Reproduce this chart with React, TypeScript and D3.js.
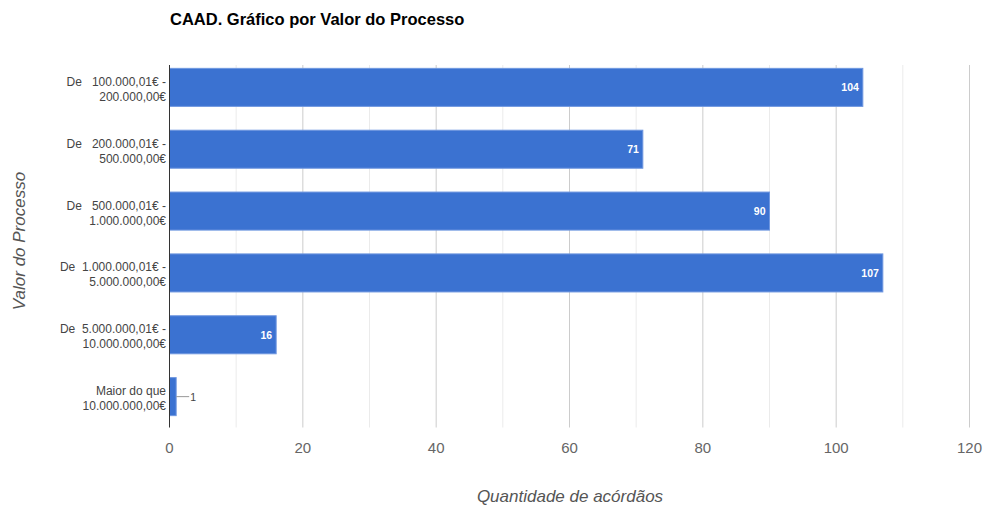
import React from "react";
import * as d3 from "d3";

const categories: string[][] = [
  ["De   100.000,01€ -", "200.000,00€"],
  ["De   200.000,01€ -", "500.000,00€"],
  ["De   500.000,01€ -", "1.000.000,00€"],
  ["De  1.000.000,01€ -", "5.000.000,00€"],
  ["De  5.000.000,01€ -", "10.000.000,00€"],
  ["Maior do que", "10.000.000,00€"],
];
const values: number[] = [104, 71, 90, 107, 16, 1];
const xTicks: number[] = [0, 20, 40, 60, 80, 100, 120];
const minorTicks: number[] = [10, 30, 50, 70, 90, 110];

const title = "CAAD. Gráfico por Valor do Processo";
const xTitle = "Quantidade de acórdãos";
const yTitle = "Valor do Processo";

export default function App() {
  const W = 986, H = 508;
  const plotTop = 65, plotBottom = 427.5;
  const x = d3.scaleLinear().domain([0, 120]).range([169.5, 969.5]);
  const y = d3
    .scaleBand<number>()
    .domain(values.map((_, i) => i))
    .range([56.6, 427.4])
    .paddingInner(0.385)
    .paddingOuter(0.19);
  const font = "Arial, 'Liberation Sans', sans-serif";
  return (
    <svg width={W} height={H} style={{ position: "absolute", left: 0, top: 0, fontFamily: font }}>
      <rect width={W} height={H} fill="#fff" />
      <text x={170} y={25} fontSize={16.5} fontWeight="bold" fill="#000">{title}</text>
      {minorTicks.map((t) => (
        <line key={"m" + t} x1={x(t)} x2={x(t)} y1={plotTop} y2={plotBottom} stroke="#ebebeb" strokeWidth={1} />
      ))}
      {xTicks.slice(1).map((t) => (
        <line key={"g" + t} x1={x(t)} x2={x(t)} y1={plotTop} y2={plotBottom} stroke="#cccccc" strokeWidth={1} />
      ))}
      {values.map((v, i) => {
        const by = y(i)!;
        const bh = y.bandwidth();
        const cy = by + bh / 2;
        const xe = x(v);
        return (
          <g key={i}>
            <rect x={x(0)} y={by} width={xe - x(0)} height={bh} fill="#3b72d1" stroke="#6f97e0" strokeWidth={1} />
            {v >= 10 ? (
              <text x={xe - 4} y={cy + 4} textAnchor="end" fontSize={10.5} fontWeight="bold" fill="#fff">{v}</text>
            ) : (
              <g>
                <line x1={xe} x2={xe + 13} y1={cy} y2={cy} stroke="#999" strokeWidth={1} />
                <text x={xe + 14} y={cy + 4} fontSize={10.5} fill="#444">{v}</text>
              </g>
            )}
            <text x={166} y={cy - 1.5} textAnchor="end" fontSize={12} fill="#444" style={{ whiteSpace: "pre" }}>{categories[i][0]}</text>
            <text x={166} y={cy + 13.5} textAnchor="end" fontSize={12} fill="#444" style={{ whiteSpace: "pre" }}>{categories[i][1]}</text>
          </g>
        );
      })}
      <line x1={x(0)} x2={x(0)} y1={plotTop} y2={plotBottom} stroke="#333" strokeWidth={1} />
      {xTicks.map((t) => (
        <text key={"t" + t} x={x(t)} y={453} textAnchor="middle" fontSize={15} fill="#666">{t}</text>
      ))}
      <text x={570} y={502} textAnchor="middle" fontSize={17} fontStyle="italic" fill="#555">{xTitle}</text>
      <text transform={`translate(25,241) rotate(-90)`} textAnchor="middle" fontSize={17} fontStyle="italic" fill="#555">{yTitle}</text>
    </svg>
  );
}
